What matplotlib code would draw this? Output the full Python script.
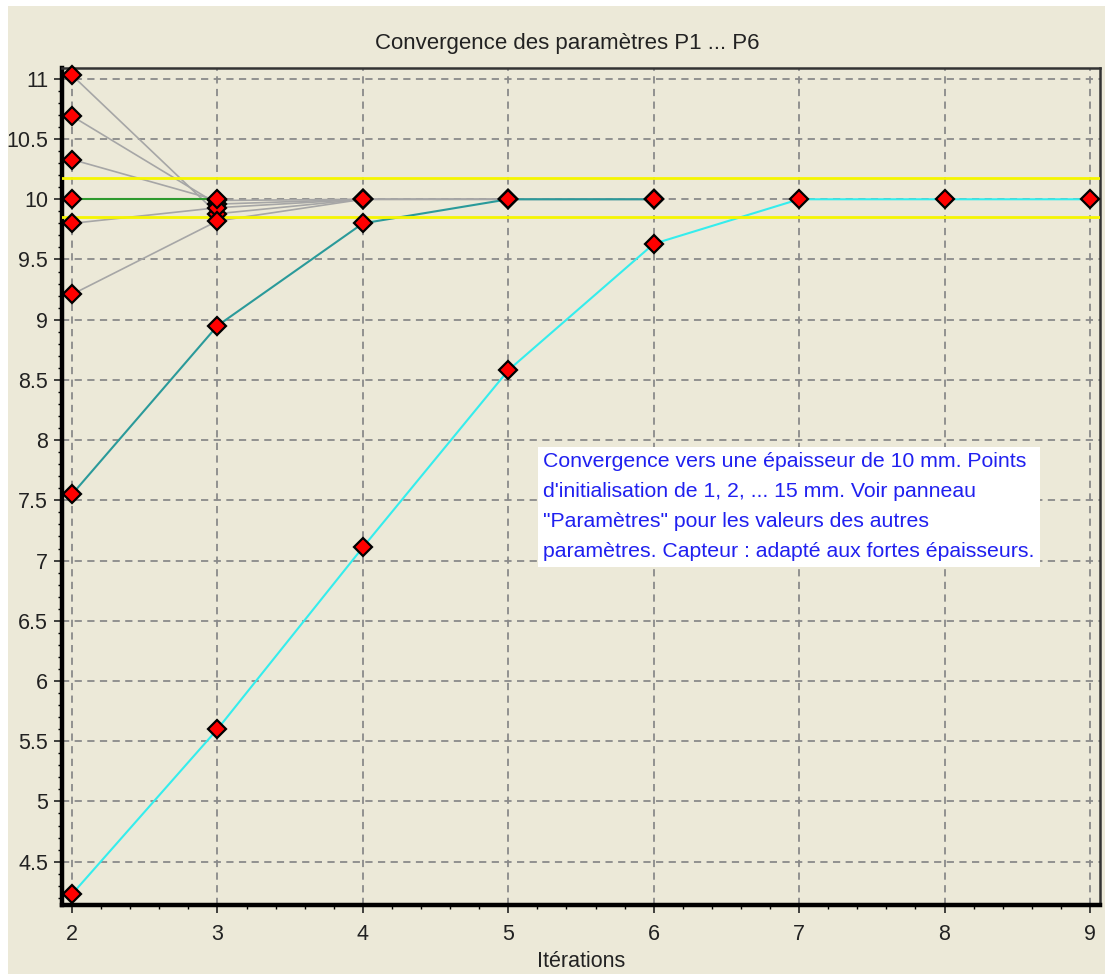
import matplotlib.pyplot as plt
from matplotlib.ticker import MultipleLocator
from matplotlib.patches import Rectangle

plt.rcParams['font.family'] = ['Liberation Sans', 'DejaVu Sans']

# Données : valeurs du paramètre à chaque itération (itérations 2, 3, 4, ...)
iterations = [2, 3, 4, 5, 6, 7, 8, 9]
gris_1 = [11.03, 9.88, 10.0, 10.0, 10.0]
gris_2 = [10.69, 9.96, 10.0, 10.0, 10.0]
gris_3 = [10.33, 9.99, 10.0, 10.0]
gris_4 = [9.80, 9.93, 10.0]
gris_5 = [9.21, 9.82, 10.0]
vert = [10.0, 10.0]
bleu_canard = [7.55, 8.95, 9.80, 10.0, 10.0]
cyan = [4.23, 5.60, 7.11, 8.58, 9.63, 10.0, 10.0, 10.0]
limite_haute = 10.18
limite_basse = 9.85

titre = 'Convergence des paramètres P1 ... P6'
note = ("Convergence vers une épaisseur de 10 mm. Points\n"
        "d'initialisation de 1, 2, ... 15 mm. Voir panneau\n"
        "\"Paramètres\" pour les valeurs des autres\n"
        "paramètres. Capteur : adapté aux fortes épaisseurs.")

fond = '#ECE9D8'
fig = plt.figure(figsize=(11.05, 9.74), dpi=100, facecolor='white')
fig.patches.append(Rectangle((8 / 1105, 0), 1, 1 - 6 / 974, transform=fig.transFigure,
                             facecolor=fond, edgecolor='none', zorder=-10))
ax = fig.add_axes([62 / 1105, 1 - 905 / 974, (1100 - 62) / 1105, (905 - 68) / 974])
ax.set_facecolor(fond)

# Lignes grises (paramètres qui convergent rapidement)
for serie in [gris_1, gris_2, gris_3, gris_4, gris_5]:
    ax.plot(iterations[:len(serie)], serie, color='#A6A6A6', lw=1.2, zorder=2)
ax.plot(iterations[:len(vert)], vert, color='#2E9A2E', lw=1.5, zorder=3)
ax.plot(iterations[:len(bleu_canard)], bleu_canard, color='#2A9A9A', lw=1.5, zorder=3)
ax.plot(iterations[:len(cyan)], cyan, color='#35EDED', lw=1.5, zorder=3)

# Limites jaunes
ax.axhline(limite_haute, color='#F5F500', lw=2, zorder=4)
ax.axhline(limite_basse, color='#F5F500', lw=2, zorder=4)

# Points rouges
for serie in [gris_1, gris_2, gris_3, gris_4, gris_5, vert, bleu_canard, cyan]:
    ax.plot(iterations[:len(serie)], serie, ls='none', marker='D', ms=9,
            mfc='#FF0000', mec='black', mew=1.6, zorder=5, clip_on=False)

ax.set_xlim(1.931, 9.069)
ax.set_ylim(4.14, 11.09)
ax.xaxis.set_major_locator(MultipleLocator(1))
ax.xaxis.set_minor_locator(MultipleLocator(0.2))
ax.yaxis.set_major_locator(MultipleLocator(0.5))
ax.yaxis.set_minor_locator(MultipleLocator(0.1))
ax.set_yticklabels([f'{v:g}' for v in ax.get_yticks()])
ax.grid(True, which='major', color='#8A8A8A', ls=(0, (4, 3)), lw=1.3, zorder=1)
ax.tick_params(which='major', length=6, width=1.2, labelsize=15.5, colors='#222222', pad=8)
ax.tick_params(which='minor', length=3, width=1)
ax.tick_params(axis='y', pad=4)

for cote in ['left', 'bottom']:
    ax.spines[cote].set_linewidth(3.2)
    ax.spines[cote].set_color('black')
for cote in ['top', 'right']:
    ax.spines[cote].set_linewidth(1.8)
    ax.spines[cote].set_color('#333333')

ax.set_xlabel('Itérations', fontsize=15.5, color='#222222', labelpad=4)
fig.text(567 / 1105, 1 - 43 / 974, titre, ha='center', va='center', fontsize=16, color='#222222')

ax.text(5.24, 7.90, note, ha='left', va='top', fontsize=15.3, color='#2020F0',
        linespacing=1.74, zorder=6,
        bbox=dict(facecolor='white', edgecolor='none', pad=4))

fig.savefig('out.png', dpi=100, facecolor=fig.get_facecolor())
